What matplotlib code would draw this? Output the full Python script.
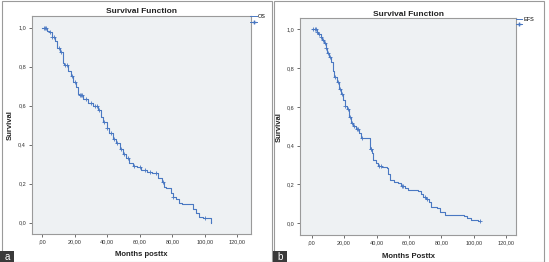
import numpy as np
import matplotlib
matplotlib.use("Agg")
import matplotlib.pyplot as plt
from matplotlib.lines import Line2D
from matplotlib.patches import Rectangle

# ---- data ----
os_time = [0, 2.7, 4.0, 5.7, 7.8, 9.2, 11.0, 12.5, 13.5, 16.0, 17.4, 19.0, 20.7, 22.1, 22.7,
           25.2, 28.3, 31.4, 34.5, 36.0, 37.5, 39.6, 41.2, 43.3, 45.3, 47.8, 49.8, 51.5,
           53.5, 55.6, 58.0, 61.0, 64.2, 67.3, 71.4, 73.4, 75.0, 76.1, 79.0, 80.2, 82.2,
           84.3, 85.7, 93.0, 94.5, 96.6, 99.0, 103.8]
os_surv = [1.0, 0.985, 0.976, 0.954, 0.93, 0.894, 0.877, 0.817, 0.81, 0.78, 0.752, 0.723,
           0.697, 0.66, 0.655, 0.634, 0.615, 0.598, 0.58, 0.54, 0.518, 0.484, 0.458, 0.427,
           0.41, 0.38, 0.352, 0.33, 0.304, 0.29, 0.287, 0.27, 0.26, 0.253, 0.227, 0.21,
           0.185, 0.176, 0.15, 0.133, 0.12, 0.1, 0.096, 0.068, 0.051, 0.03, 0.026, 0.003]
os_end = 104.0
os_censor = [0.8, 1.5, 2.2, 4.8, 6.0, 7.0, 10.0, 11.5, 14.2, 15.0, 18.0, 20.0, 23.0, 23.8,
             24.6, 27.0, 30.0, 32.5, 33.5, 35.0, 38.0, 40.0, 42.0, 44.0, 46.0, 48.5, 50.5,
             52.5, 56.5, 60.0, 63.0, 66.0, 70.0, 74.0, 80.5, 100.0]

efs_time = [0, 3.1, 4.1, 5.5, 6.6, 7.6, 8.6, 9.7, 10.7, 12.1, 13.4, 13.8, 15.4, 16.8, 17.9,
            19.3, 20.3, 21.6, 23.0, 24.5, 25.7, 27.3, 29.2, 30.6, 31.8, 36.0, 37.0, 37.8,
            39.4, 41.1, 43.6, 46.2, 47.3, 48.3, 50.8, 53.4, 54.9, 57.5, 59.4, 65.5, 67.2,
            68.8, 70.7, 72.3, 73.8, 77.5, 79.1, 82.0, 93.9, 96.0, 98.0, 102.5]
efs_surv = [1.0, 0.988, 0.974, 0.962, 0.945, 0.928, 0.902, 0.876, 0.855, 0.833, 0.787, 0.752,
            0.73, 0.69, 0.666, 0.635, 0.604, 0.587, 0.55, 0.518, 0.5, 0.484, 0.466, 0.44,
            0.437, 0.38, 0.36, 0.325, 0.308, 0.296, 0.287, 0.282, 0.253, 0.222, 0.213,
            0.205, 0.191, 0.179, 0.17, 0.167, 0.148, 0.136, 0.122, 0.11, 0.084, 0.076,
            0.059, 0.041, 0.036, 0.024, 0.015, 0.012]
efs_end = 104.0
efs_censor = [1.0, 1.8, 2.5, 3.5, 4.6, 5.8, 7.0, 8.0, 9.0, 10.2, 11.5, 14.5, 16.0, 17.2,
              18.5, 20.8, 22.2, 23.5, 24.8, 26.2, 27.8, 28.8, 31.0, 36.3, 36.8, 41.5, 42.5,
              55.5, 56.5, 70.0, 71.2, 104.0]

xticks = [0, 20, 40, 60, 80, 100, 120]
xticklabels = [",00", "20,00", "40,00", "60,00", "80,00", "100,00", "120,00"]
yticks = [0.0, 0.2, 0.4, 0.6, 0.8, 1.0]
yticklabels = ["0,0", "0,2", "0,4", "0,6", "0,8", "1,0"]

LINE = "#4a78c2"
BG = "#eef1f3"
FONT = "Liberation Sans"

plt.rcParams['font.family'] = [FONT, 'DejaVu Sans']

fig = plt.figure(figsize=(5.49, 2.62), dpi=100)
fig.patch.set_facecolor("white")


def step_at(times, surv, t):
    idx = np.searchsorted(np.asarray(times), t, side="right") - 1
    return np.asarray(surv)[idx]


def panel(rect, times, surv, end, censor, xlim, ylim, xlabel, leg):
    ax = fig.add_axes(rect)
    ax.set_facecolor(BG)
    t = list(times) + [end]
    s = list(surv) + [surv[-1]]
    ax.step(t, s, where="post", color=LINE, lw=0.8)
    if leg == "OS":
        ax.plot([end, end], [surv[-1], 0.0], color=LINE, lw=0.8)
    cs = step_at(times, surv, np.array(censor))
    ax.plot(censor, cs, ls="none", marker="+", ms=3, mew=0.6, color=LINE)
    ax.set_xlim(*xlim)
    ax.set_ylim(*ylim)
    ax.set_xticks(xticks)
    ax.set_xticklabels(xticklabels, fontsize=4, color="#333333")
    ax.set_yticks(yticks)
    ax.set_yticklabels(yticklabels, fontsize=4, color="#333333")
    ax.tick_params(length=2.5, width=0.6, color="#555555", pad=1.5)
    for sp in ax.spines.values():
        sp.set_color("#9a9a9a")
        sp.set_linewidth(0.8)
    ax.set_title("Survival Function", fontsize=6, fontweight="bold", pad=2, color="#222222")
    ax.set_xlabel(xlabel, fontsize=5.5, fontweight="bold", labelpad=5, color="#222222")
    ax.set_ylabel("Survival", fontsize=5.5, fontweight="bold", labelpad=3, color="#222222")
    handles = [Line2D([], [], color=LINE, lw=0.7, drawstyle="steps-post"),
               Line2D([], [], color=LINE, lw=0.7, marker="+", ms=3)]
    ax.legend(handles, [leg, ""], loc="upper left", bbox_to_anchor=(0.995, 1.01),
              frameon=False, fontsize=4, handlelength=1.2, handletextpad=0.2,
              labelspacing=0.1, borderaxespad=0.0, borderpad=0.1)
    return ax


panel([0.0577, 0.107, 0.3995, 0.832], os_time, os_surv, os_end, os_censor,
      (-6.5, 128.4), (-0.058, 1.06), "Months posttx", "OS")
panel([0.5464, 0.103, 0.394, 0.827], efs_time, efs_surv, efs_end, efs_censor,
      (-7.2, 126.2), (-0.062, 1.057), "Months Posttx", "EFS")

W, H = 549.0, 262.0
# panel frames
for x0, x1 in [(2, 272), (274, 544)]:
    fig.patches.append(Rectangle((x0 / W, 0.5 / H), (x1 - x0) / W, (H - 1.5) / H,
                                 transform=fig.transFigure, fill=False,
                                 edgecolor="#9a9a9a", lw=0.8))
# panel letters
for x0, letter in [(0, "a"), (273, "b")]:
    fig.patches.append(Rectangle((x0 / W, 0), 14 / W, 11.5 / H, transform=fig.transFigure,
                                 facecolor="#3a3a3a", edgecolor="none"))
    fig.text((x0 + 7) / W, 5.5 / H, letter, color="white", fontsize=7,
             ha="center", va="center")

fig.savefig("out.png", dpi=100)
